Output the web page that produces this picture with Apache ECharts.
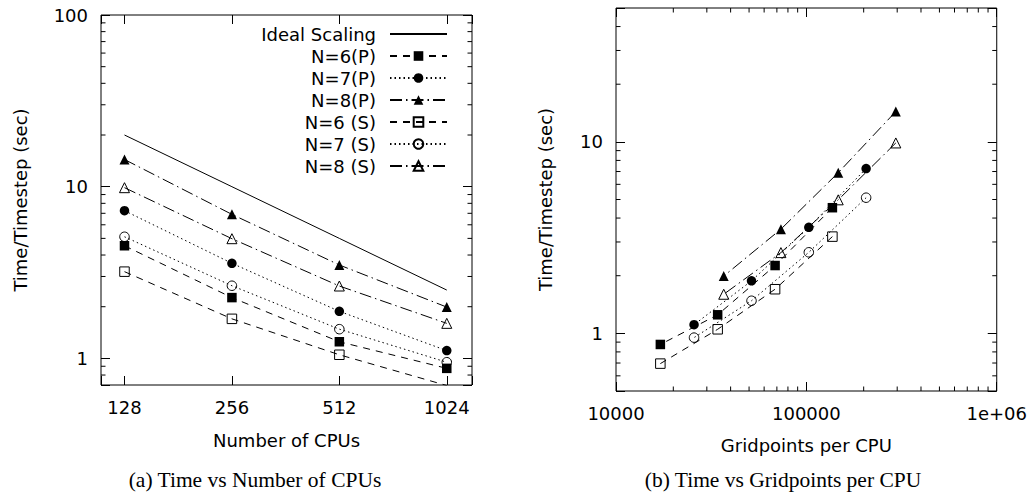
<!DOCTYPE html>
<html><head><meta charset="utf-8">
<script src="https://cdn.jsdelivr.net/npm/echarts@6/dist/echarts.min.js"></script>
<style>html,body{margin:0;padding:0;background:#fff}#c{width:1030px;height:496px}</style>
</head><body><div id="c"></div>
<script>
// ---- data ----
const cpus = [128, 256, 512, 1024];
const ideal = [20, 10, 5, 2.5];
const n6P = [4.53, 2.26, 1.25, 0.875];
const n7P = [7.25, 3.58, 1.88, 1.11];
const n8P = [14.4, 6.9, 3.5, 1.99];
const n6S = [3.2, 1.7, 1.05, 0.695];
const n7S = [5.11, 2.65, 1.48, 0.95];
const n8S = [9.87, 4.98, 2.64, 1.6];
const gp6 = [137000, 68500, 34200, 17100];
const gp7 = [206000, 103000, 51500, 25700];
const gp8 = [295000, 147000, 73500, 36800];
// ---- ticks ----
const cpuTickValues = [128, 256, 512, 1024];
const cpuTickLabels = ['128', '256', '512', '1024'];
const leftYTickValues = [1, 10, 100];
const leftYTickLabels = ['1', '10', '100'];
const gpTickValues = [10000, 100000, 1000000];
const gpTickLabels = ['10000', '100000', '1e+06'];
const rightYTickValues = [1, 10];
const rightYTickLabels = ['1', '10'];
const leftYMinor = [0.8, 0.9, 2, 3, 4, 5, 6, 7, 8, 9, 20, 30, 40, 50, 60, 70, 80, 90];
const rightYMinor = [0.6, 0.7, 0.8, 0.9, 2, 3, 4, 5, 6, 7, 8, 9, 20, 30, 40];
const rightXMinor = [20000, 30000, 40000, 50000, 60000, 70000, 80000, 90000,
  200000, 300000, 400000, 500000, 600000, 700000, 800000, 900000];

const FONT = 'DejaVu Sans';
const SERIF = 'Liberation Serif';
const L_XMIN = 110, L_XMAX = 1205, L_YMIN = 0.7, L_YMAX = 100;
const R_XMIN = 10000, R_XMAX = 1000000, R_YMIN = 0.5, R_YMAX = 50;

function fmt(values, labels) {
  return function (v) {
    for (let i = 0; i < values.length; i++) {
      if (Math.abs(v - values[i]) / values[i] < 1e-3) return labels[i];
    }
    return '';
  };
}
const tickStyle = {show: true, inside: true, length: 9, lineStyle: {color: '#000', width: 1}};
const labelStyle = {fontFamily: FONT, fontSize: 18, color: '#000', margin: 13};
const nameStyle = {fontFamily: FONT, fontSize: 18, color: '#000'};

function xAx(grid, base, min, max, pos, labels, name, gap) {
  return {
    type: 'log', logBase: base, gridIndex: grid, min: min, max: max, position: pos,
    axisLine: {show: false}, axisTick: tickStyle, splitLine: {show: false},
    axisLabel: labels ? Object.assign({formatter: labels}, labelStyle) : {show: false},
    name: name || '', nameLocation: 'middle', nameGap: gap || 0, nameTextStyle: nameStyle
  };
}
function yAx(grid, min, max, pos, labels, name, gap) {
  return {
    type: 'log', logBase: 10, gridIndex: grid, min: min, max: max, position: pos,
    axisLine: {show: false}, axisTick: tickStyle, splitLine: {show: false},
    axisLabel: labels ? Object.assign({formatter: labels}, labelStyle) : {show: false},
    name: name || '', nameLocation: 'middle', nameRotate: 90, nameGap: gap || 0, nameTextStyle: nameStyle
  };
}

function minorY(len) {
  return function (params, api) {
    const cs = params.coordSys;
    const y = api.coord([api.value(0), api.value(1)])[1];
    const st = {stroke: '#000', lineWidth: 1};
    return {type: 'group', children: [
      {type: 'line', shape: {x1: cs.x, y1: y, x2: cs.x + len, y2: y}, style: st},
      {type: 'line', shape: {x1: cs.x + cs.width - len, y1: y, x2: cs.x + cs.width, y2: y}, style: st}
    ]};
  };
}
function minorX(len) {
  return function (params, api) {
    const cs = params.coordSys;
    const x = api.coord([api.value(0), api.value(1)])[0];
    const st = {stroke: '#000', lineWidth: 1};
    return {type: 'group', children: [
      {type: 'line', shape: {x1: x, y1: cs.y + cs.height, x2: x, y2: cs.y + cs.height - len}, style: st},
      {type: 'line', shape: {x1: x, y1: cs.y, x2: x, y2: cs.y + len}, style: st}
    ]};
  };
}

const DASH6 = [7, 6];
const DOT7 = [1.5, 3];
const DASHDOT8 = [12, 4, 1.5, 4];
const filled = {color: '#000'};
const open = {color: 'rgba(255,255,255,0)', borderColor: '#000', borderWidth: 1};

const styles = [
  {name: 'N=6(P)', sym: 'rect', size: 9.5, dash: DASH6, item: filled},
  {name: 'N=7(P)', sym: 'circle', size: 9.5, dash: DOT7, item: filled},
  {name: 'N=8(P)', sym: 'triangle', size: 10, dash: DASHDOT8, item: filled},
  {name: 'N=6 (S)', sym: 'rect', size: 9.5, dash: DASH6, item: open},
  {name: 'N=7 (S)', sym: 'circle', size: 9.5, dash: DOT7, item: open},
  {name: 'N=8 (S)', sym: 'triangle', size: 10, dash: DASHDOT8, item: open}
];
const yData = [n6P, n7P, n8P, n6S, n7S, n8S];
const gpData = [gp6, gp7, gp8, gp6, gp7, gp8];

const series = [{
  name: 'Ideal Scaling', type: 'line', xAxisIndex: 0, yAxisIndex: 0,
  data: cpus.map((c, i) => [c, ideal[i]]), symbol: 'none',
  lineStyle: {color: '#000', width: 1, type: 'solid'}, itemStyle: {color: '#000'}
}];
styles.forEach(function (s, k) {
  const base = {
    name: s.name, type: 'line', symbol: s.sym, symbolSize: s.size, showSymbol: true,
    lineStyle: {color: '#000', width: 1, type: s.dash}, itemStyle: s.item, clip: true,
    emphasis: {disabled: true}
  };
  series.push(Object.assign({}, base, {xAxisIndex: 0, yAxisIndex: 0,
    data: cpus.map((c, i) => [c, yData[k][i]])}));
  series.push(Object.assign({}, base, {xAxisIndex: 2, yAxisIndex: 2,
    data: gpData[k].map((g, i) => [g, yData[k][i]])}));
});
series.push({type: 'custom', xAxisIndex: 0, yAxisIndex: 0, silent: true, renderItem: minorY(4.5),
  data: leftYMinor.map(v => [L_XMIN, v])});
series.push({type: 'custom', xAxisIndex: 2, yAxisIndex: 2, silent: true, renderItem: minorY(4.5),
  data: rightYMinor.map(v => [R_XMIN, v])});
series.push({type: 'custom', xAxisIndex: 2, yAxisIndex: 2, silent: true, renderItem: minorX(4.5),
  data: rightXMinor.map(v => [v, R_YMIN])});

const chart = echarts.init(document.getElementById('c'), null, {renderer: 'svg'});
chart.setOption({
  animation: false,
  backgroundColor: '#fff',
  grid: [
    {left: 101, top: 15, width: 371, height: 370, show: true, borderColor: '#000', borderWidth: 1, backgroundColor: 'transparent'},
    {left: 616, top: 8, width: 382, height: 383, show: true, borderColor: '#000', borderWidth: 1, backgroundColor: 'transparent'}
  ],
  xAxis: [
    xAx(0, 2, L_XMIN, L_XMAX, 'bottom', fmt(cpuTickValues, cpuTickLabels), 'Number of CPUs', 46),
    xAx(0, 2, L_XMIN, L_XMAX, 'top', null),
    xAx(1, 10, R_XMIN, R_XMAX, 'bottom', fmt(gpTickValues, gpTickLabels), 'Gridpoints per CPU', 45),
    xAx(1, 10, R_XMIN, R_XMAX, 'top', null)
  ],
  yAxis: [
    yAx(0, L_YMIN, L_YMAX, 'left', fmt(leftYTickValues, leftYTickLabels), 'Time/Timestep (sec)', 72),
    yAx(0, L_YMIN, L_YMAX, 'right', null),
    yAx(1, R_YMIN, R_YMAX, 'left', fmt(rightYTickValues, rightYTickLabels), 'Time/Timestep (sec)', 62),
    yAx(1, R_YMIN, R_YMAX, 'right', null)
  ],
  legend: {
    orient: 'vertical', right: 582, top: 25, padding: 0, align: 'right',
    itemWidth: 57, itemHeight: 12, itemGap: 4, selectedMode: false,
    textStyle: {fontFamily: FONT, fontSize: 18, color: '#000', padding: [0, 9, 0, 0]},
    data: [{name: 'Ideal Scaling', itemStyle: {opacity: 0}}].concat(styles.map(s => s.name))
  },
  graphic: [
    {type: 'text', x: 255, y: 480, style: {text: '(a) Time vs Number of CPUs', font: '21.5px "' + SERIF + '"', fill: '#000', textAlign: 'center', textVerticalAlign: 'middle'}},
    {type: 'text', x: 783, y: 480, style: {text: '(b) Time vs Gridpoints per CPU', font: '21.5px "' + SERIF + '"', fill: '#000', textAlign: 'center', textVerticalAlign: 'middle'}}
  ],
  series: series
});
</script></body></html>
